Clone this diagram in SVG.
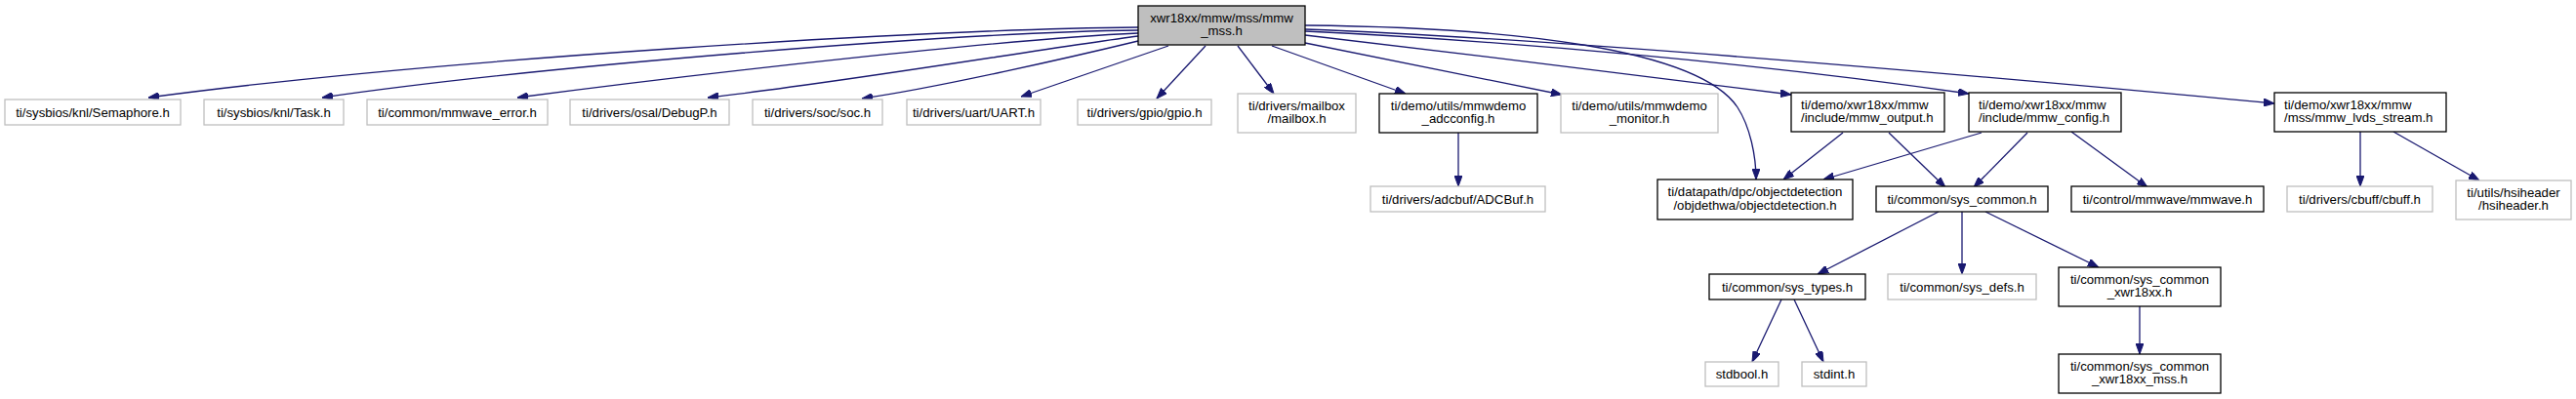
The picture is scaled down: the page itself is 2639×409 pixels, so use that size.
<svg xmlns="http://www.w3.org/2000/svg" width="2639" height="409" viewBox="0 0 2639 409">
<style>
text{font-family:"Liberation Sans",Arial,Helvetica,sans-serif;font-size:13.2px;fill:#000}
.c{text-anchor:middle}
.ext{fill:#fff;stroke:#bfbfbf;stroke-width:1.3}
.blk{fill:#fff;stroke:#000;stroke-width:1.3}
.main{fill:#bfbfbf;stroke:#000;stroke-width:1.3}
#edges path{fill:none;stroke:#191970;stroke-width:1.3;marker-end:url(#a)}
</style>
<defs>
<marker id="a" markerWidth="11" markerHeight="8" refX="11" refY="4" orient="auto" markerUnits="userSpaceOnUse"><path d="M0,0 L11,4 L0,8 z" fill="#191970" stroke="#191970" stroke-width="1"/></marker>
</defs>
<rect width="2639" height="409" fill="#fff"/>
<g id="edges">
<path d="M1166,28 C950,30 450,60 152,100"/>
<path d="M1166,31 C980,33 550,68 330,100"/>
<path d="M1166,34 C1030,40 720,75 530,100"/>
<path d="M1166,37 C1080,48 860,85 725,100"/>
<path d="M1166,42 C1100,58 960,90 883,101"/>
<path d="M1197,47 L1046,99"/>
<path d="M1235,47 L1185,101"/>
<path d="M1268,47 L1305,96"/>
<path d="M1303,47 L1440,96"/>
<path d="M1337,44 L1600,97"/>
<path d="M1337,26 C1550,28 1740,50 1780,110 C1793,130 1799,160 1799,184"/>
<path d="M1337,36 C1500,55 1700,80 1835,97"/>
<path d="M1337,32 C1550,42 1800,65 2017,96"/>
<path d="M1337,30 C1600,40 2000,75 2330,106"/>
<path d="M1494,136 L1494,191"/>
<path d="M1888,136 L1827,184"/>
<path d="M1935,136 L1993,192"/>
<path d="M2030,136 L1868,184"/>
<path d="M2077,136 L2022,192"/>
<path d="M2122,135 L2200,192"/>
<path d="M2418,135 L2418,191"/>
<path d="M2452,135 L2540,185"/>
<path d="M1986,217 L1862,281"/>
<path d="M2010,217 L2010,281"/>
<path d="M2034,217 L2150,274"/>
<path d="M1825,307 L1795,371"/>
<path d="M1838,307 L1868,371"/>
<path d="M2192,314 L2192,363"/>
</g>
<g id="n_main"><rect class="main" x="1166" y="6" width="171" height="40"/><text class="c" x="1251.5" y="22.5">xwr18xx/mmw/mss/mmw</text><text class="c" x="1251.5" y="36">_mss.h</text></g>
<g id="n_semaphore"><rect class="ext" x="5" y="102" width="180" height="26"/><text class="c" x="95" y="119.6">ti/sysbios/knl/Semaphore.h</text></g>
<g id="n_task"><rect class="ext" x="209" y="102" width="143" height="26"/><text class="c" x="280.5" y="119.6">ti/sysbios/knl/Task.h</text></g>
<g id="n_mmwave_error"><rect class="ext" x="376" y="102" width="185" height="26"/><text class="c" x="468.5" y="119.6">ti/common/mmwave_error.h</text></g>
<g id="n_debugp"><rect class="ext" x="584" y="102" width="163" height="26"/><text class="c" x="665.5" y="119.6">ti/drivers/osal/DebugP.h</text></g>
<g id="n_soc"><rect class="ext" x="771" y="102" width="133" height="26"/><text class="c" x="837.5" y="119.6">ti/drivers/soc/soc.h</text></g>
<g id="n_uart"><rect class="ext" x="929" y="102" width="137" height="26"/><text class="c" x="997.5" y="119.6">ti/drivers/uart/UART.h</text></g>
<g id="n_gpio"><rect class="ext" x="1104" y="102" width="137" height="26"/><text class="c" x="1172.5" y="119.6">ti/drivers/gpio/gpio.h</text></g>
<g id="n_mailbox"><rect class="ext" x="1268" y="96" width="121" height="40"/><text class="c" x="1328.5" y="112.5">ti/drivers/mailbox</text><text class="c" x="1328.5" y="126">/mailbox.h</text></g>
<g id="n_adcconfig"><rect class="blk" x="1413" y="96" width="162" height="40"/><text class="c" x="1494" y="112.5">ti/demo/utils/mmwdemo</text><text class="c" x="1494" y="126">_adcconfig.h</text></g>
<g id="n_monitor"><rect class="ext" x="1599" y="96" width="161" height="40"/><text class="c" x="1679.5" y="112.5">ti/demo/utils/mmwdemo</text><text class="c" x="1679.5" y="126">_monitor.h</text></g>
<g id="n_mmw_output"><rect class="blk" x="1835" y="95" width="157" height="40"/><text x="1845" y="111.5">ti/demo/xwr18xx/mmw</text><text x="1845" y="125">/include/mmw_output.h</text></g>
<g id="n_mmw_config"><rect class="blk" x="2017" y="95" width="156" height="40"/><text x="2027" y="111.5">ti/demo/xwr18xx/mmw</text><text x="2027" y="125">/include/mmw_config.h</text></g>
<g id="n_lvds"><rect class="blk" x="2330" y="95" width="176" height="40"/><text x="2340" y="111.5">ti/demo/xwr18xx/mmw</text><text x="2340" y="125">/mss/mmw_lvds_stream.h</text></g>
<g id="n_adcbuf"><rect class="ext" x="1404" y="191" width="179" height="26"/><text class="c" x="1493.5" y="208.6">ti/drivers/adcbuf/ADCBuf.h</text></g>
<g id="n_objdet"><rect class="blk" x="1698" y="184" width="200" height="41"/><text class="c" x="1798" y="201">ti/datapath/dpc/objectdetection</text><text class="c" x="1798" y="214.5">/objdethwa/objectdetection.h</text></g>
<g id="n_sys_common"><rect class="blk" x="1922" y="191" width="176" height="26"/><text class="c" x="2010" y="208.6">ti/common/sys_common.h</text></g>
<g id="n_mmwave"><rect class="blk" x="2122" y="191" width="197" height="26"/><text class="c" x="2220.5" y="208.6">ti/control/mmwave/mmwave.h</text></g>
<g id="n_cbuff"><rect class="ext" x="2343" y="191" width="149" height="26"/><text class="c" x="2417.5" y="208.6">ti/drivers/cbuff/cbuff.h</text></g>
<g id="n_hsiheader"><rect class="ext" x="2516" y="185" width="118" height="40"/><text class="c" x="2575" y="201.5">ti/utils/hsiheader</text><text class="c" x="2575" y="215">/hsiheader.h</text></g>
<g id="n_sys_types"><rect class="blk" x="1751" y="281" width="160" height="26"/><text class="c" x="1831" y="298.6">ti/common/sys_types.h</text></g>
<g id="n_sys_defs"><rect class="ext" x="1934" y="281" width="152" height="26"/><text class="c" x="2010" y="298.6">ti/common/sys_defs.h</text></g>
<g id="n_xwr18xx"><rect class="blk" x="2109" y="274" width="166" height="40"/><text class="c" x="2192" y="290.5">ti/common/sys_common</text><text class="c" x="2192" y="304">_xwr18xx.h</text></g>
<g id="n_stdbool"><rect class="ext" x="1747" y="371" width="75" height="25"/><text class="c" x="1784.5" y="388">stdbool.h</text></g>
<g id="n_stdint"><rect class="ext" x="1846" y="371" width="66" height="25"/><text class="c" x="1879" y="388">stdint.h</text></g>
<g id="n_xwr18xx_mss"><rect class="blk" x="2109" y="363" width="166" height="40"/><text class="c" x="2192" y="379.5">ti/common/sys_common</text><text class="c" x="2192" y="393">_xwr18xx_mss.h</text></g>
</svg>
